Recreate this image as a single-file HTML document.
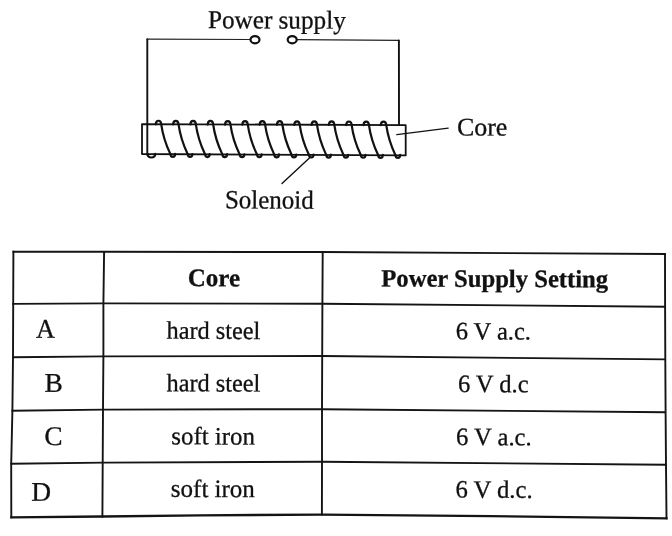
<!DOCTYPE html>
<html><head><meta charset="utf-8"><title>Solenoid</title>
<style>
html,body{margin:0;padding:0;background:#fff;}
body{width:672px;height:536px;overflow:hidden;}
svg{display:block;filter:grayscale(1);}
text{font-family:"Liberation Serif",serif;fill:#111;stroke:#111;stroke-width:0.3px;}
.b{font-weight:bold;}
</style></head><body>
<svg width="672" height="536" viewBox="0 0 672 536">
<rect width="672" height="536" fill="#fff"/>
<g fill="none" stroke="#141414" stroke-width="1.9" stroke-linejoin="round" stroke-linecap="square">
<path d="M13.4,251.7 L104,251.8 L322.7,252 L665,254"/>
<path d="M13.2,303.9 L104,303.4 L322,303.7 L665,306.7"/>
<path d="M13,357.2 L104,356.4 L322,356 L665,359.4"/>
<path d="M12.4,410.7 L104,409.6 L322,409.2 L665,412.2"/>
<path d="M11.2,463.7 L104,462.6 L322,461.7 L665,464.7"/>
<path stroke-width="2.3" d="M11.3,517.3 L102.4,516.5 L200,515.3 L322,514.6 L490,516.2 L666.5,518.3"/>
<path d="M13.4,251.7 L13.2,304 L13,357 L12.4,410.7 L11.2,463.7 L11.3,517.3"/>
<path d="M104.1,252 L103.4,303.4 L103.4,356.4 L103,409.6 L102.7,462.6 L102.4,516.5"/>
<path d="M322.7,252 L322.4,303.7 L322.2,356 L322,409.2 L322,461.7 L321.9,514.6"/>
<path d="M665,254 L665.1,306.7 L665.3,359.4 L665.6,412.2 L666,464.7 L666.5,518.3"/>
</g>
<g fill="none" stroke="#111" stroke-linejoin="round" stroke-linecap="round">
<path stroke-width="1.9" d="M147.3,155 L147.3,39.2"/>
<path stroke-width="1.25" stroke="#222" d="M147.3,39.2 L250.5,39.5"/>
<path stroke-width="1.25" stroke="#222" d="M296.8,39.7 L398.7,40.4"/>
<path stroke-width="1.9" d="M398.9,40.4 L399,124.6"/>
<ellipse cx="255" cy="39.7" rx="4.5" ry="3.6" stroke-width="2.2"/>
<ellipse cx="292.2" cy="39.7" rx="4.5" ry="3.6" stroke-width="2.2"/>
<path stroke-width="1.8" d="M142,124.1 L405.7,125.1 L405.7,155.4 L142,154 Z"/>
<path stroke-width="2.2" d="M155.80,124.36 C155.80,119.56 161.20,119.56 161.20,124.36 M161.20,124.06 Q163.30,139.15 170.20,153.64 Q170.60,154.54 170.60,155.04 M170.50,153.94 C170.50,157.84 175.10,157.84 175.10,153.94 M173.11,124.43 C173.11,119.63 178.51,119.63 178.51,124.43 M178.51,124.13 Q180.61,139.22 187.51,153.72 Q187.91,154.62 187.91,155.12 M187.81,154.02 C187.81,157.92 192.41,157.92 192.41,154.02 M190.42,124.49 C190.42,119.69 195.82,119.69 195.82,124.49 M195.82,124.19 Q197.92,139.30 204.82,153.80 Q205.22,154.70 205.22,155.20 M205.12,154.10 C205.12,158.00 209.72,158.00 209.72,154.10 M207.73,124.56 C207.73,119.76 213.13,119.76 213.13,124.56 M213.13,124.26 Q215.23,139.37 222.13,153.88 Q222.53,154.78 222.53,155.28 M222.43,154.18 C222.43,158.08 227.03,158.08 227.03,154.18 M225.04,124.63 C225.04,119.83 230.44,119.83 230.44,124.63 M230.44,124.33 Q232.54,139.44 239.44,153.96 Q239.84,154.86 239.84,155.36 M239.74,154.26 C239.74,158.16 244.34,158.16 244.34,154.26 M242.35,124.69 C242.35,119.89 247.75,119.89 247.75,124.69 M247.75,124.39 Q249.85,139.51 256.75,154.03 Q257.15,154.93 257.15,155.43 M257.05,154.33 C257.05,158.23 261.65,158.23 261.65,154.33 M259.66,124.76 C259.66,119.96 265.06,119.96 265.06,124.76 M265.06,124.46 Q267.16,139.58 274.06,154.11 Q274.46,155.01 274.46,155.51 M274.36,154.41 C274.36,158.31 278.96,158.31 278.96,154.41 M276.97,124.82 C276.97,120.02 282.37,120.02 282.37,124.82 M282.37,124.52 Q284.47,139.66 291.37,154.19 Q291.77,155.09 291.77,155.59 M291.67,154.49 C291.67,158.39 296.27,158.39 296.27,154.49 M294.28,124.89 C294.28,120.09 299.68,120.09 299.68,124.89 M299.68,124.59 Q301.78,139.73 308.68,154.27 Q309.08,155.17 309.08,155.67 M308.98,154.57 C308.98,158.47 313.58,158.47 313.58,154.57 M311.59,124.95 C311.59,120.15 316.99,120.15 316.99,124.95 M316.99,124.65 Q319.09,139.80 325.99,154.35 Q326.39,155.25 326.39,155.75 M326.29,154.65 C326.29,158.55 330.89,158.55 330.89,154.65 M328.90,125.02 C328.90,120.22 334.30,120.22 334.30,125.02 M334.30,124.72 Q336.40,139.87 343.30,154.43 Q343.70,155.33 343.70,155.83 M343.60,154.73 C343.60,158.63 348.20,158.63 348.20,154.73 M346.21,125.08 C346.21,120.28 351.61,120.28 351.61,125.08 M351.61,124.78 Q353.71,139.95 360.61,154.51 Q361.01,155.41 361.01,155.91 M360.91,154.81 C360.91,158.71 365.51,158.71 365.51,154.81 M363.52,125.15 C363.52,120.35 368.92,120.35 368.92,125.15 M368.92,124.85 Q371.02,140.02 377.92,154.59 Q378.32,155.49 378.32,155.99 M378.22,154.89 C378.22,158.79 382.82,158.79 382.82,154.89 M380.83,125.22 C380.83,120.42 386.23,120.42 386.23,125.22 M386.23,124.92 Q388.33,140.09 395.23,154.66 Q395.63,155.56 395.63,156.06 M395.53,154.96 C395.53,158.86 400.13,158.86 400.13,154.96 M147.6,153.84 C147.6,158.74 155.2,158.74 155.2,153.84"/>
<path stroke-width="1.3" d="M396.8,134.6 L448.2,128.2"/>
<path stroke-width="1.4" d="M310.5,157.1 L282,183.6"/>
</g>
<text id="t_ps" x="207.95" y="28.10" font-size="25.50" textLength="137.79" lengthAdjust="spacingAndGlyphs" transform="rotate(0.25 207.95 28.10)">Power supply</text>
<text id="t_core" x="457.00" y="135.40" font-size="25.50" textLength="50.36" lengthAdjust="spacingAndGlyphs" transform="rotate(0.25 457.00 135.40)">Core</text>
<text id="t_sol" x="224.95" y="208.30" font-size="26.20" textLength="88.79" lengthAdjust="spacingAndGlyphs" transform="rotate(0.25 224.95 208.30)">Solenoid</text>
<text id="h_core" class="b" x="187.80" y="286.00" font-size="25.00" textLength="52.30" lengthAdjust="spacingAndGlyphs" transform="rotate(0.25 187.80 286.00)">Core</text>
<text id="h_pss" class="b" x="381.25" y="286.40" font-size="25.00" textLength="226.89" lengthAdjust="spacingAndGlyphs" transform="rotate(0.25 381.25 286.40)">Power Supply Setting</text>
<text id="r_a" x="36.00" y="337.80" font-size="27.00" textLength="19.00" lengthAdjust="spacingAndGlyphs" transform="rotate(0.25 36.00 337.80)">A</text>
<text id="r_b" x="44.60" y="391.70" font-size="27.00" textLength="18.30" lengthAdjust="spacingAndGlyphs" transform="rotate(0.25 44.60 391.70)">B</text>
<text id="r_c" x="44.35" y="445.00" font-size="27.00" textLength="18.31" lengthAdjust="spacingAndGlyphs" transform="rotate(0.25 44.35 445.00)">C</text>
<text id="r_d" x="31.30" y="500.80" font-size="27.00" textLength="19.78" lengthAdjust="spacingAndGlyphs" transform="rotate(0.25 31.30 500.80)">D</text>
<text id="c_a" x="166.50" y="338.60" font-size="25.00" textLength="93.73" lengthAdjust="spacingAndGlyphs" transform="rotate(0.25 166.50 338.60)">hard steel</text>
<text id="c_b" x="166.50" y="391.20" font-size="25.00" textLength="93.73" lengthAdjust="spacingAndGlyphs" transform="rotate(0.25 166.50 391.20)">hard steel</text>
<text id="c_c" x="171.35" y="444.20" font-size="25.00" textLength="83.53" lengthAdjust="spacingAndGlyphs" transform="rotate(0.25 171.35 444.20)">soft iron</text>
<text id="c_d" x="170.85" y="496.80" font-size="25.00" textLength="84.03" lengthAdjust="spacingAndGlyphs" transform="rotate(0.25 170.85 496.80)">soft iron</text>
<text id="p_a" x="455.70" y="339.30" font-size="25.00" textLength="75.29" lengthAdjust="spacingAndGlyphs" transform="rotate(0.25 455.70 339.30)">6 V a.c.</text>
<text id="p_b" x="457.90" y="392.00" font-size="25.00" textLength="70.72" lengthAdjust="spacingAndGlyphs" transform="rotate(0.25 457.90 392.00)">6 V d.c</text>
<text id="p_c" x="456.05" y="445.00" font-size="25.00" textLength="75.55" lengthAdjust="spacingAndGlyphs" transform="rotate(0.25 456.05 445.00)">6 V a.c.</text>
<text id="p_d" x="455.40" y="497.60" font-size="25.00" textLength="77.22" lengthAdjust="spacingAndGlyphs" transform="rotate(0.25 455.40 497.60)">6 V d.c.</text>
</svg>
</body></html>
